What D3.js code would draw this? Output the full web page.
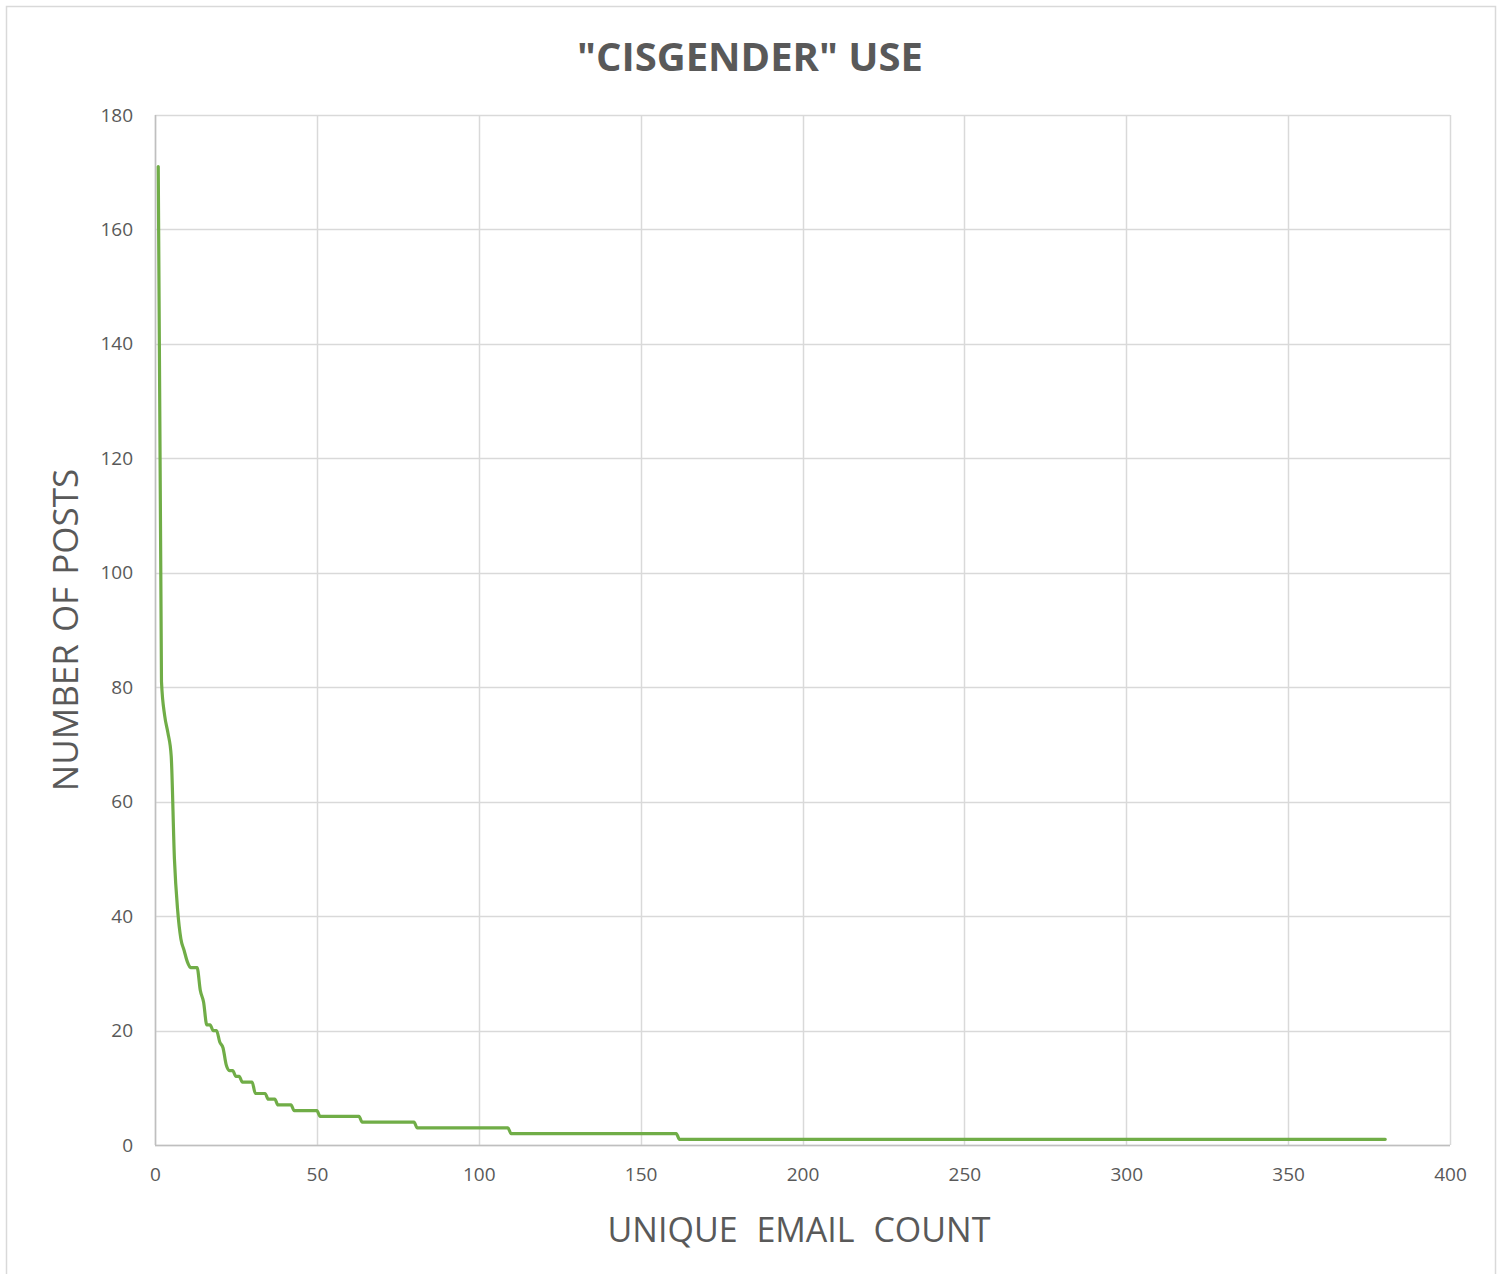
<!DOCTYPE html>
<html>
<head>
<meta charset="utf-8">
<script src="https://cdn.jsdelivr.net/npm/d3@7"></script>
<style>
  body { margin: 0; background: #fff; }
  text { font-family: "Open Sans", "Noto Sans", sans-serif; }
</style>
</head>
<body>
<div id="chart-area"></div>
<script>
// rank of unique email vs number of posts (breakpoints)
var ranks = [1, 2, 3, 4, 5, 6, 7, 8, 9, 10, 11, 13, 14, 15, 16, 17, 18, 19, 20, 21, 22, 23, 24, 25, 26, 27, 30, 31, 34, 35, 37, 38, 42, 43, 50, 51, 63, 64, 80, 81, 109, 110, 161, 162, 380];
var posts = [171, 81, 75, 72, 68, 50, 41, 36, 34, 32, 31, 31, 27, 25, 21, 21, 20, 20, 18, 17, 14, 13, 13, 12, 12, 11, 11, 9, 9, 8, 8, 7, 7, 6, 6, 5, 5, 4, 4, 3, 3, 2, 2, 1, 1];

var xTicks = [0, 50, 100, 150, 200, 250, 300, 350, 400];
var yTicks = [0, 20, 40, 60, 80, 100, 120, 140, 160, 180];

var titleText = '"CISGENDER" USE';
var xTitle = "UNIQUE EMAIL COUNT";
var yTitle = "NUMBER OF POSTS";

var W = 1502, H = 1274;
var margin = { left: 155, right: 52, top: 115, bottom: 129 };
var width = W - margin.left - margin.right,
    height = H - margin.top - margin.bottom;

var svg = d3.select("#chart-area").append("svg")
  .attr("width", W).attr("height", H);

// outer chart border
svg.append("rect")
  .attr("x", 6.5).attr("y", 6.5)
  .attr("width", 1489).attr("height", 1300)
  .attr("fill", "#fff").attr("stroke", "#d9d9d9").attr("stroke-width", 1.5);

var g = svg.append("g")
  .attr("transform", "translate(" + margin.left + "," + margin.top + ")");

var x = d3.scaleLinear().domain([0, 400]).range([0, width]);
var y = d3.scaleLinear().domain([0, 180]).range([height, 0]);

// gridlines
g.append("g").selectAll("line").data(yTicks).enter().append("line")
  .attr("x1", 0).attr("x2", width)
  .attr("y1", function (d) { return Math.round(y(d)) + 0.5; })
  .attr("y2", function (d) { return Math.round(y(d)) + 0.5; })
  .attr("stroke", "#d9d9d9").attr("stroke-width", 1.5);

g.append("g").selectAll("line").data(xTicks).enter().append("line")
  .attr("y1", 0).attr("y2", height)
  .attr("x1", function (d) { return Math.round(x(d)) + 0.5; })
  .attr("x2", function (d) { return Math.round(x(d)) + 0.5; })
  .attr("stroke", "#d9d9d9").attr("stroke-width", 1.5);

// axes (labels only, the lines are drawn below)
var xAxis = d3.axisBottom(x).tickValues(xTicks).tickSize(0).tickPadding(23);
var yAxis = d3.axisLeft(y).tickValues(yTicks).tickSize(0).tickPadding(22);

var gx = g.append("g").attr("transform", "translate(0," + height + ")").call(xAxis);
var gy = g.append("g").call(yAxis);
[gx, gy].forEach(function (a) {
  a.select(".domain").remove();
  a.selectAll("text").attr("font-size", "19px").attr("fill", "#595959")
    .style("font-family", '"Open Sans", sans-serif');
});

// axis lines
g.append("line").attr("x1", 0.5).attr("x2", 0.5).attr("y1", 0).attr("y2", height)
  .attr("stroke", "#bfbfbf").attr("stroke-width", 1.5);
g.append("line").attr("x1", 0).attr("x2", width)
  .attr("y1", Math.round(height) + 0.5).attr("y2", Math.round(height) + 0.5)
  .attr("stroke", "#bfbfbf").attr("stroke-width", 1.5);

// the curve
var line = d3.line()
  .x(function (d) { return x(d[0]); })
  .y(function (d) { return y(d[1]); })
  .curve(d3.curveMonotoneX);

var pts = ranks.map(function (r, i) { return [r, posts[i]]; });
g.append("path").datum(pts)
  .attr("d", line)
  .attr("fill", "none")
  .attr("stroke", "#70ad47")
  .attr("stroke-width", 3.2)
  .attr("stroke-linejoin", "round")
  .attr("stroke-linecap", "round");

// titles
svg.append("text")
  .attr("x", 750).attr("y", 71)
  .attr("text-anchor", "middle")
  .attr("font-size", "40px").attr("font-weight", "bold")
  .attr("fill", "#595959")
  .text(titleText);

svg.append("text")
  .attr("x", 799).attr("y", 1242)
  .attr("text-anchor", "middle")
  .attr("font-size", "34px")
  .attr("word-spacing", "10px")
  .attr("fill", "#595959")
  .text(xTitle);

svg.append("text")
  .attr("transform", "translate(78,630) rotate(-90)")
  .attr("text-anchor", "middle")
  .attr("font-size", "35px")
  .attr("word-spacing", "3px")
  .attr("fill", "#595959")
  .text(yTitle);
</script>
</body>
</html>
